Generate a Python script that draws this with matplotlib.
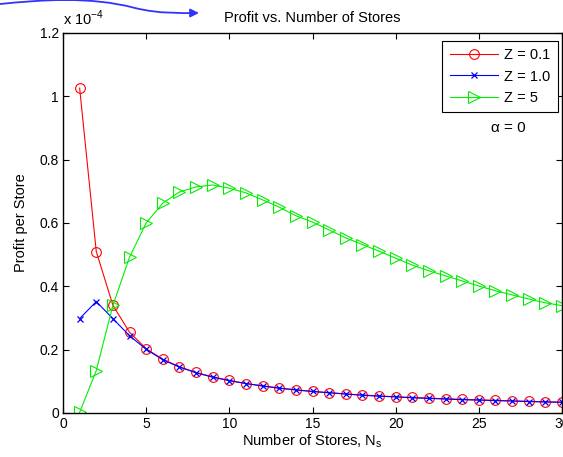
import matplotlib
matplotlib.use("Agg")
import matplotlib.pyplot as plt
from matplotlib.path import Path
from matplotlib.patches import FancyArrowPatch

plt.rcParams['font.family'] = ['Liberation Sans', 'DejaVu Sans']

# number of stores
stores = list(range(1, 31))

# profit per store, in units of 1e-4
z01 = [1.026, 0.510, 0.340, 0.255, 0.203, 0.170, 0.146, 0.128, 0.114, 0.103,
       0.093, 0.086, 0.079, 0.073, 0.068, 0.064, 0.060, 0.057, 0.054, 0.051,
       0.049, 0.047, 0.045, 0.043, 0.041, 0.040, 0.038, 0.037, 0.035, 0.034]
z10 = [0.298, 0.352, 0.298, 0.244, 0.201, 0.168, 0.145, 0.127, 0.113, 0.102,
       0.093, 0.085, 0.078, 0.073, 0.068, 0.064, 0.060, 0.056, 0.053, 0.051,
       0.048, 0.046, 0.044, 0.042, 0.041, 0.039, 0.038, 0.036, 0.035, 0.034]
z5 = [0.002, 0.134, 0.340, 0.492, 0.600, 0.663, 0.698, 0.714, 0.720, 0.710,
      0.695, 0.673, 0.650, 0.623, 0.603, 0.578, 0.553, 0.532, 0.511, 0.489,
      0.467, 0.449, 0.433, 0.417, 0.401, 0.386, 0.373, 0.360, 0.348, 0.339]

series_labels = ['Z = 0.1', 'Z = 1.0', 'Z = 5']
x_ticks = [0, 5, 10, 15, 20, 25, 30]
y_ticks = [0, 0.2, 0.4, 0.6, 0.8, 1.0, 1.2]
y_ticklabels = ['0', '0.2', '0.4', '0.6', '0.8', '1', '1.2']

W, H = 563, 457
fig = plt.figure(figsize=(W / 100, H / 100), dpi=100)
ax = fig.add_axes([63 / W, 44 / H, (562 - 63) / W, (413 - 33) / H])

ax.plot(stores, z01, color='#ff0000', lw=0.8, marker='o', ms=7, mfc='none', mec='#ff0000', mew=0.8, label=series_labels[0])
ax.plot(stores, z10, color='#0000ff', lw=0.8, marker='x', ms=4, mew=0.9, label=series_labels[1])
ax.plot(stores, z5, color='#00ee00', lw=0.8, marker='>', ms=8, mfc='none', mec='#00ee00', mew=0.8, label=series_labels[2])

ax.set_xlim(0, 30)
ax.set_ylim(0, 1.2)
ax.set_xticks(x_ticks)
ax.set_yticks(y_ticks)
ax.set_yticklabels(y_ticklabels)
ax.tick_params(direction='in', top=True, right=True, length=4, width=0.8, labelsize=10, pad=3)
for s in ax.spines.values():
    s.set_linewidth(1.0)

ax.set_xlabel('Number of Stores, N$_\\mathregular{s}$', fontsize=10.5, labelpad=1)
ax.set_ylabel('Profit per Store', fontsize=10.5, labelpad=8)
ax.set_title('Profit vs. Number of Stores', fontsize=10.5, pad=8)

fig.text(63 / W, (H - 25) / H, 'x 10$^{\\mathregular{-4}}$', fontsize=10.5, ha='left', va='baseline')
ax.text(26.8, 0.9, 'α = 0', fontsize=11, ha='center', va='center')

leg = ax.legend(loc='upper right', bbox_to_anchor=((558 - 63) / 499, (413 - 41) / 380),
                fontsize=10.5, frameon=True, fancybox=False, edgecolor='black', framealpha=1,
                borderaxespad=0, handlelength=3.3, handletextpad=0.45,
                labelspacing=0.5, borderpad=0.5)
leg.get_frame().set_linewidth(0.8)

# blue hand-drawn arrow at the top left
pts = [(0, 4), (40, 0), (90, -4), (135, 8), (160, 14), (180, 13), (199, 13)]
codes = [Path.MOVETO, Path.CURVE4, Path.CURVE4, Path.CURVE4, Path.CURVE4, Path.CURVE4, Path.CURVE4]
verts = [(px, H - py) for px, py in pts]
arrow = FancyArrowPatch(path=Path(verts, codes), arrowstyle='-|>,head_length=5,head_width=2.5',
                        color='#3333ff', lw=1.3, transform=None)
fig.add_artist(arrow)

fig.savefig('out.png', dpi=100)
